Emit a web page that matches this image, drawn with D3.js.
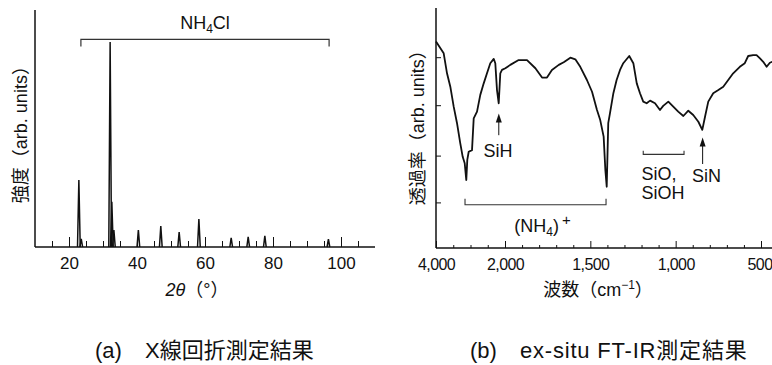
<!DOCTYPE html>
<html>
<head>
<meta charset="utf-8">
<script src="https://cdn.jsdelivr.net/npm/d3@7"></script>
<style>
  html, body { margin: 0; padding: 0; background: #fff; }
  svg { display: block; font-family: "Liberation Sans", Arial, "Noto Sans CJK JP", sans-serif; }
</style>
</head>
<body>
<svg id="chart" width="772" height="365"></svg>
<script>
// (a) XRD peaks: 2theta (deg) and intensity (arb.)
const xrdPos = [22.9, 23.6, 32.1, 32.6, 33.2, 40.4, 47.0, 52.4, 58.2, 67.7, 72.7, 77.6, 96.3];
const xrdInt = [32.7, 4, 100, 22, 8.3, 8.3, 10.2, 7.3, 13.7, 4.4, 4.9, 5.4, 3.9];
const xrdTicks = d3.range(15, 106, 5);
const xrdLabels = [20, 40, 60, 80, 100];

// (b) FT-IR spectrum: wavenumber (cm-1) and transmittance (arb.)
const irWave = [4000, 3777, 3681, 3585, 3487, 3391, 3296, 3226, 3168, 3122, 3093, 3052, 2956, 2907, 2811,
  2716, 2617, 2522, 2426, 2327, 2281, 2232, 2182, 2136, 2087, 1998, 1969, 1920, 1871, 1822, 1783, 1754,
  1725, 1685, 1656, 1617, 1588, 1559, 1520, 1490, 1461, 1442, 1422, 1412, 1404, 1395, 1385, 1365, 1346,
  1326, 1307, 1272, 1248, 1228, 1209, 1190, 1170, 1150, 1121, 1092, 1073, 1043, 1014, 985, 955, 926, 897,
  867, 844, 828, 809, 780, 750, 721, 692, 663, 624, 595, 575, 546, 526, 506, 487, 467, 448, 434];
const irTrans = [86.0, 81.1, 72.8, 67.2, 58.9, 52.0, 43.6, 38.0, 35.3, 28.3, 36.7, 40.1, 40.8, 54.0, 56.8,
  63.8, 68.6, 72.8, 77.0, 78.8, 77.0, 65.8, 60.3, 72.8, 74.2, 74.9, 76.3, 78.3, 78.3, 74.9, 71.0, 71.0,
  74.2, 76.3, 77.4, 79.3, 78.6, 75.5, 70.0, 65.1, 57.5, 53.3, 46.4, 32.5, 25.5, 52.0, 56.1, 64.5, 70.0,
  74.2, 77.0, 80.0, 77.0, 68.6, 64.5, 61.0, 60.3, 61.4, 60.3, 57.5, 59.2, 61.0, 58.9, 56.8, 55.0, 57.2, 55.4,
  52.6, 49.2, 54.7, 61.0, 64.5, 65.8, 67.2, 70.0, 72.8, 75.5, 77.0, 80.0, 80.4, 80.4, 79.0, 77.6, 75.5, 77.2, 77.6];
const irMajor = [4000, 2000, 1500, 1000, 500];
const irMinor = [3500, 3000, 2500, 1900, 1800, 1700, 1600, 1400, 1300, 1200, 1100, 900, 800, 700, 600];
const irYTicks = [19, 38.5, 59.5, 79.5];

const svg = d3.select('#chart');
const ink = '#111';
const peakHalf = 0.4; // deg

// ---------- (a) X線回折 ----------
const xA = d3.scaleLinear().domain([10, 110]).range([35, 375]);
const yA = d3.scaleLinear().domain([0, 115.6]).range([247, 10]);

const gA = svg.append('g');

const peakLine = d3.line().x((d) => xA(d[0])).y((d) => yA(d[1]));
gA.append('g')
  .selectAll('path')
  .data(xrdPos.map((p, i) => [[p - peakHalf, 0], [p, xrdInt[i]], [p + peakHalf, 0]]))
  .join('path')
  .attr('d', peakLine)
  .attr('fill', 'none')
  .attr('stroke', ink)
  .attr('stroke-width', 1.5)
  .attr('stroke-linejoin', 'miter');

gA.append('g')
  .attr('transform', `translate(0,${yA(0)})`)
  .call(d3.axisBottom(xA).tickValues(xrdTicks).tickSize(-6).tickPadding(10)
    .tickFormat((d) => (xrdLabels.includes(d) ? d : '')))
  .call((g) => g.select('.domain').attr('d', `M${xA(10)},0H${xA(110)}`).attr('stroke', ink).attr('stroke-width', 1.5))
  .call((g) => g.selectAll('.tick line').attr('y2', (d) => (d % 20 === 0 ? -10 : -6)).attr('stroke', ink))
  .call((g) => g.selectAll('.tick text').attr('font-size', 17).attr('font-family', null).attr('fill', ink));

gA.append('line')
  .attr('x1', xA(10)).attr('x2', xA(10))
  .attr('y1', yA(0)).attr('y2', yA(115.6))
  .attr('stroke', ink).attr('stroke-width', 1.5);

// NH4Cl bracket
const brA = [23.5, 96.5];
gA.append('path')
  .attr('d', `M${xA(brA[0])},${yA(97.8)}V${yA(101.3)}H${xA(brA[1])}V${yA(97.8)}`)
  .attr('fill', 'none').attr('stroke', '#333').attr('stroke-width', 1.2);
const nh4cl = gA.append('text')
  .attr('x', xA(60)).attr('y', 29)
  .attr('text-anchor', 'middle').attr('font-size', 18).attr('fill', ink);
nh4cl.append('tspan').text('NH');
nh4cl.append('tspan').attr('font-size', 12).attr('dy', 4).text('4');
nh4cl.append('tspan').attr('dy', -4).text('Cl');

gA.append('text')
  .attr('transform', `translate(27,${yA(57)}) rotate(-90)`)
  .attr('text-anchor', 'middle').attr('font-size', 18).attr('fill', ink)
  .text('強度（arb. units）');

const xlabA = gA.append('text')
  .attr('x', 197).attr('y', 296)
  .attr('text-anchor', 'middle').attr('font-size', 18).attr('fill', ink);
xlabA.append('tspan').attr('font-style', 'italic').text('2θ');
xlabA.append('tspan').text('（°）');

// ---------- (b) FT-IR ----------
const xB = d3.scaleLinear().domain([4000, 2000, 500]).range([436, 505, 761]);
const yB = d3.scaleLinear().domain([0, 100]).range([248, 8]);

const gB = svg.append('g');

gB.append('path')
  .datum(irWave.map((w, i) => [w, irTrans[i]]))
  .attr('d', d3.line().x((d) => xB(d[0])).y((d) => yB(d[1])))
  .attr('fill', 'none')
  .attr('stroke', ink)
  .attr('stroke-width', 1.8)
  .attr('stroke-linejoin', 'round');

// axes
gB.append('g')
  .attr('transform', `translate(0,${yB(0)})`)
  .call(d3.axisBottom(xB).tickValues(irMajor).tickSize(-7).tickPadding(11).tickFormat(d3.format(',')))
  .call((g) => g.select('.domain').attr('d', `M${xB(4000)},0H772`).attr('stroke', ink).attr('stroke-width', 1.5))
  .call((g) => g.selectAll('.tick line').attr('stroke', ink))
  .call((g) => g.selectAll('.tick text').attr('font-size', 16).attr('letter-spacing', -0.6)
    .attr('font-family', null).attr('fill', ink).attr('dx', (d) => (d === 500 ? -1.5 : 0)));

gB.append('g')
  .attr('transform', `translate(0,${yB(0)})`)
  .call(d3.axisBottom(xB).tickValues(irMinor).tickSize(-3).tickFormat(''))
  .call((g) => g.select('.domain').remove())
  .call((g) => g.selectAll('.tick line').attr('stroke', ink));

gB.append('g')
  .attr('transform', `translate(${xB(4000)},0)`)
  .call(d3.axisRight(yB).tickValues(irYTicks).tickSize(5).tickFormat(''))
  .call((g) => g.select('.domain').attr('d', `M0,${yB(0)}V${yB(100)}`).attr('stroke', ink).attr('stroke-width', 1.5))
  .call((g) => g.selectAll('.tick line').attr('stroke', ink));

// annotation arrows (tip at top)
const arrow = (w, tTip, tTail) => {
  const x = xB(w), y0 = yB(tTip), y1 = yB(tTail);
  gB.append('line')
    .attr('x1', x).attr('x2', x).attr('y1', y1).attr('y2', y0 + 6)
    .attr('stroke', ink).attr('stroke-width', 1);
  gB.append('path')
    .attr('d', `M${x},${y0}L${x + 3},${y0 + 9}L${x - 3},${y0 + 9}Z`)
    .attr('fill', ink);
};
arrow(2180, 56, 47);
arrow(842, 46, 35);

gB.append('text').attr('x', xB(2200)).attr('y', 157)
  .attr('text-anchor', 'middle').attr('font-size', 18).attr('fill', ink).text('SiH');
gB.append('text').attr('x', xB(905)).attr('y', 182)
  .attr('font-size', 18).attr('fill', ink).text('SiN');
gB.append('text').attr('x', xB(1200)).attr('y', 180)
  .attr('font-size', 18).attr('fill', ink).text('SiO,');
gB.append('text').attr('x', xB(1200)).attr('y', 199)
  .attr('font-size', 18).attr('fill', ink).text('SiOH');

const bracket = (w0, w1, yTop, yBar) =>
  gB.append('path')
    .attr('d', `M${xB(w0)},${yB(yTop)}V${yB(yBar)}H${xB(w1)}V${yB(yTop)}`)
    .attr('fill', 'none').attr('stroke', '#333').attr('stroke-width', 1.1);
bracket(3159, 1408, 20.5, 18);
bracket(1190, 951, 40.5, 39);

const nh4 = gB.append('text')
  .attr('x', xB(1780)).attr('y', 232)
  .attr('text-anchor', 'middle').attr('font-size', 18).attr('fill', ink);
nh4.append('tspan').text('(NH');
nh4.append('tspan').attr('font-size', 12).attr('dy', 4).text('4');
nh4.append('tspan').attr('dy', -4).text(')');
nh4.append('tspan').attr('font-size', 15).attr('dy', -7).attr('dx', 3).text('+');

gB.append('text')
  .attr('transform', `translate(424,${yB(52)}) rotate(-90)`)
  .attr('text-anchor', 'middle').attr('font-size', 18).attr('fill', ink)
  .text('透過率（arb. units）');

const xlabB = gB.append('text')
  .attr('x', 598).attr('y', 296)
  .attr('text-anchor', 'middle').attr('font-size', 18).attr('fill', ink);
xlabB.append('tspan').text('波数（cm');
xlabB.append('tspan').attr('font-size', 12).attr('dy', -7).text('−1');
xlabB.append('tspan').attr('dy', 7).text('）');

// captions
const capA = svg.append('text').attr('y', 358).attr('font-size', 22).attr('fill', ink);
capA.append('tspan').attr('x', 95).text('(a)');
capA.append('tspan').attr('x', 145).text('X線回折測定結果');
const capB = svg.append('text').attr('y', 358).attr('font-size', 22).attr('fill', ink);
capB.append('tspan').attr('x', 470).text('(b)');
capB.append('tspan').attr('x', 520).attr('letter-spacing', 0.8).text('ex-situ FT-IR測定結果');
</script>
</body>
</html>
